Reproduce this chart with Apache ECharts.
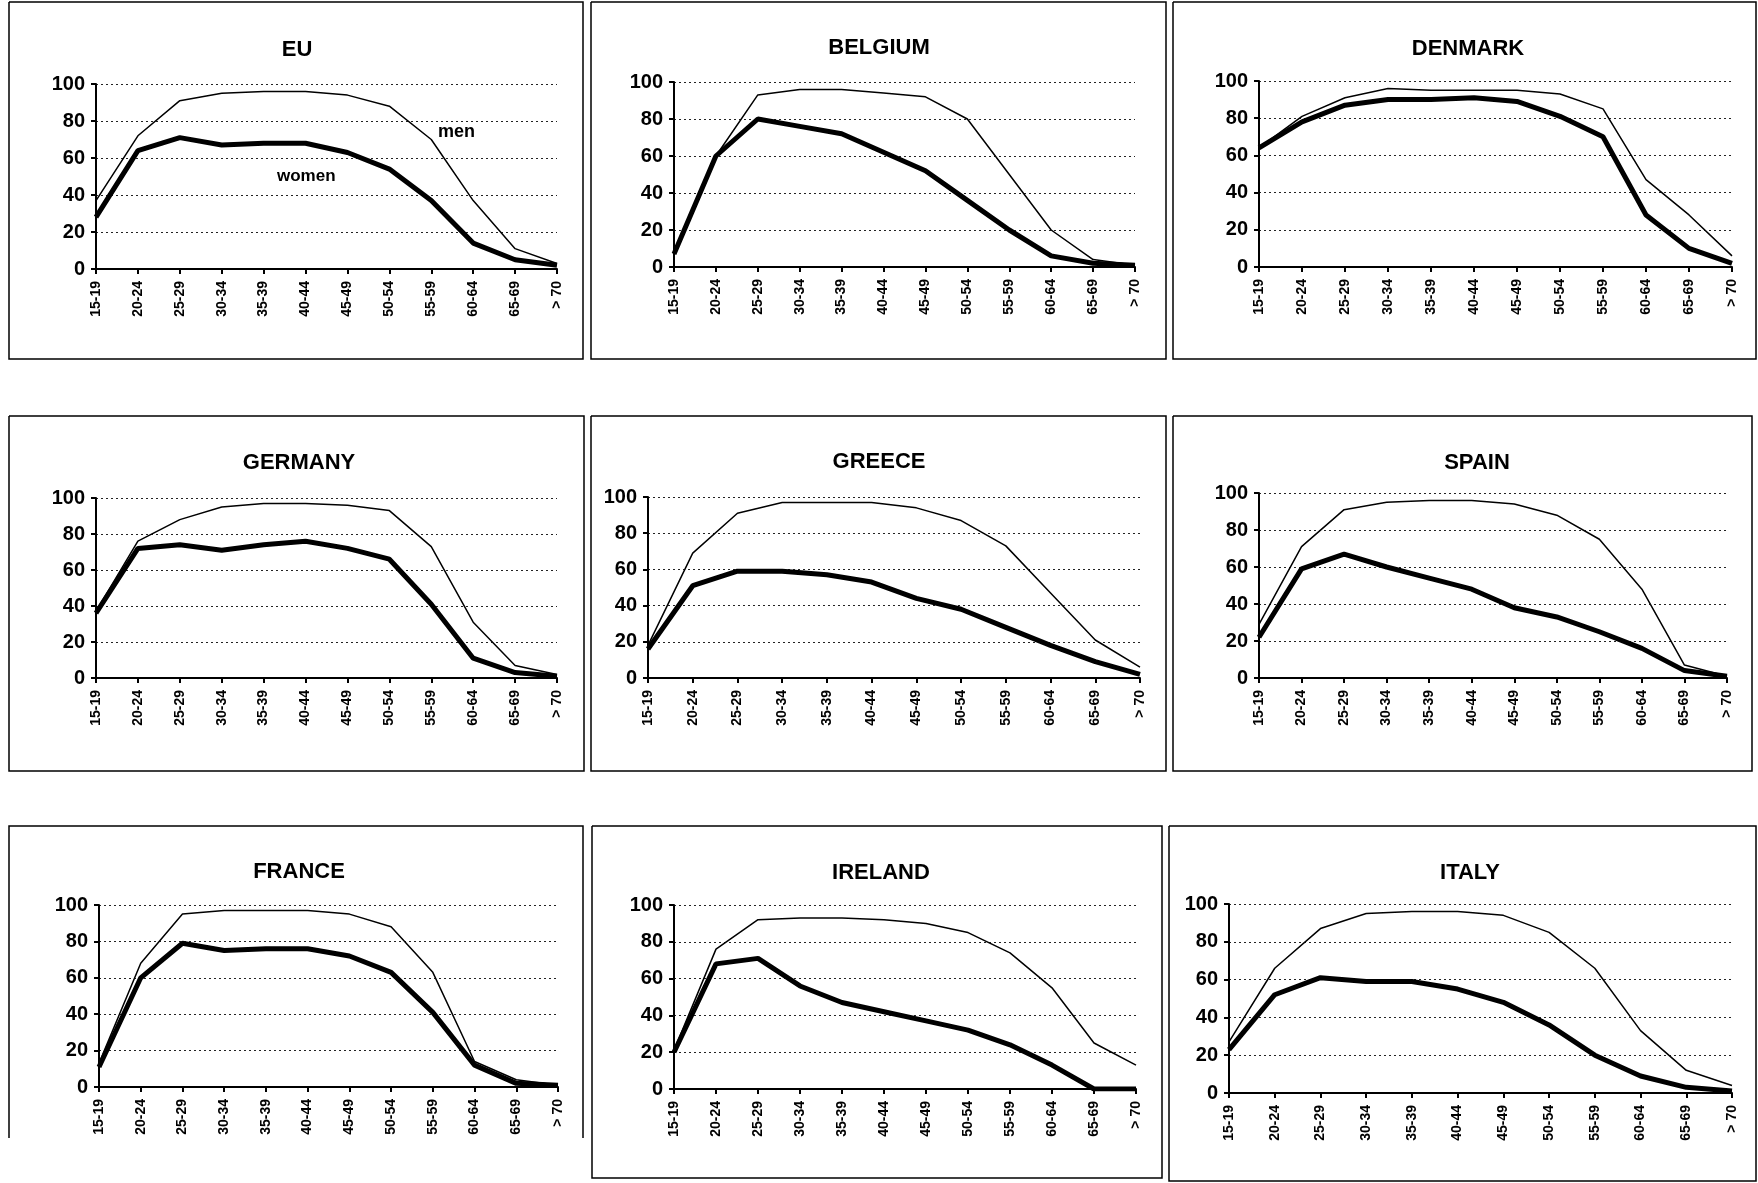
<!DOCTYPE html>
<html>
<head>
<meta charset="utf-8">
<script src="https://cdn.jsdelivr.net/npm/echarts@6/dist/echarts.min.js"></script>
<style>
  html, body { margin: 0; padding: 0; background: #fff; }
  #chart { width: 1758px; height: 1183px; }
</style>
</head>
<body>
<div id="chart"></div>
<script>
// age groups on the x axis
var ageGroups = ["15-19", "20-24", "25-29", "30-34", "35-39", "40-44", "45-49", "50-54", "55-59", "60-64", "65-69", "> 70"];
var yTicks = [0, 20, 40, 60, 80, 100];

var countries = ["EU", "BELGIUM", "DENMARK", "GERMANY", "GREECE", "SPAIN", "FRANCE", "IRELAND", "ITALY"];

// activity rates (%)
var euMen      = [37, 72, 91, 95, 96, 96, 94, 88, 70, 37, 11, 3];
var euWomen    = [28, 64, 71, 67, 68, 68, 63, 54, 37, 14, 5, 2];
var beMen      = [8, 60, 93, 96, 96, 94, 92, 80, 50, 20, 4, 1];
var beWomen    = [7, 60, 80, 76, 72, 62, 52, 36, 20, 6, 2, 1];
var dkMen      = [64, 81, 91, 96, 95, 95, 95, 93, 85, 47, 28, 6];
var dkWomen    = [64, 78, 87, 90, 90, 91, 89, 81, 70, 28, 10, 2];
var deMen      = [37, 76, 88, 95, 97, 97, 96, 93, 73, 31, 7, 2];
var deWomen    = [36, 72, 74, 71, 74, 76, 72, 66, 41, 11, 3, 1];
var grMen      = [18, 69, 91, 97, 97, 97, 94, 87, 73, 47, 21, 6];
var grWomen    = [16, 51, 59, 59, 57, 53, 44, 38, 28, 18, 9, 2];
var esMen      = [29, 71, 91, 95, 96, 96, 94, 88, 75, 48, 7, 1];
var esWomen    = [22, 59, 67, 60, 54, 48, 38, 33, 25, 16, 4, 1];
var frMen      = [13, 68, 95, 97, 97, 97, 95, 88, 63, 14, 4, 1];
var frWomen    = [11, 60, 79, 75, 76, 76, 72, 63, 41, 12, 2, 1];
var ieMen      = [21, 76, 92, 93, 93, 92, 90, 85, 74, 55, 25, 13];
var ieWomen    = [20, 68, 71, 56, 47, 42, 37, 32, 24, 13, 0, 0];
var itMen      = [27, 66, 87, 95, 96, 96, 94, 85, 66, 33, 12, 4];
var itWomen    = [23, 52, 61, 59, 59, 55, 48, 36, 20, 9, 3, 1];

var menData = [euMen, beMen, dkMen, deMen, grMen, esMen, frMen, ieMen, itMen];
var womenData = [euWomen, beWomen, dkWomen, deWomen, grWomen, esWomen, frWomen, ieWomen, itWomen];

// layout of each panel: box [x, y, w, h], plot [left, top, width, height], title centre [x, y]
var layout = [
  { box: [9, 2, 574, 357], plot: [96, 84, 461, 185], title: [292, 47] },
  { box: [591, 2, 575, 357], plot: [674, 82, 461, 185], title: [874, 45] },
  { box: [1173, 2, 583, 357], plot: [1259, 81, 473, 186], title: [1463, 46] },
  { box: [9, 416, 575, 355], plot: [96, 498, 461, 180], title: [294, 460] },
  { box: [591, 416, 575, 355], plot: [648, 497, 492, 181], title: [874, 459] },
  { box: [1173, 416, 579, 355], plot: [1259, 493, 468, 185], title: [1472, 460] },
  { box: [9, 826, 574, 312, true], plot: [99, 905, 459, 182], title: [294, 869] },
  { box: [592, 826, 570, 352], plot: [674, 905, 462, 184], title: [876, 870] },
  { box: [1169, 826, 587, 355], plot: [1229, 904, 503, 189], title: [1465, 870] }
];

var FONT = "Liberation Sans";
var titles = [], grids = [], xAxes = [], yAxes = [], series = [], graphics = [];

countries.forEach(function (name, i) {
  var L = layout[i];
  titles.push({
    text: name, left: L.title[0], top: L.title[1] - 13, textAlign: "center",
    textStyle: { fontFamily: FONT, fontWeight: "bold", fontSize: 22, color: "#000" }
  });
  grids.push({ left: L.plot[0], top: L.plot[1], width: L.plot[2], height: L.plot[3], containLabel: false });
  xAxes.push({
    gridIndex: i, type: "category", boundaryGap: false, data: ageGroups,
    axisLine: { lineStyle: { color: "#000", width: 2 } },
    axisTick: { show: true, length: 5, lineStyle: { color: "#000", width: 2 } },
    axisLabel: { rotate: 90, interval: 0, margin: 12, fontFamily: FONT, fontWeight: "bold", fontSize: 14, color: "#000" }
  });
  yAxes.push({
    gridIndex: i, type: "value", min: yTicks[0], max: yTicks[yTicks.length - 1], interval: 20,
    axisLine: { show: true, lineStyle: { color: "#000", width: 2 } },
    axisTick: { show: true, length: 5, lineStyle: { color: "#000", width: 2 } },
    axisLabel: { margin: 11, fontFamily: FONT, fontWeight: "bold", fontSize: 20, color: "#000" },
    splitLine: { show: true, lineStyle: { type: [2, 3], color: "#222", width: 1 } }
  });
  series.push({
    name: name + " men", type: "line", xAxisIndex: i, yAxisIndex: i, data: menData[i],
    showSymbol: false, lineStyle: { color: "#000", width: 1.5 }, z: 3
  });
  series.push({
    name: name + " women", type: "line", xAxisIndex: i, yAxisIndex: i, data: womenData[i],
    showSymbol: false, lineStyle: { color: "#000", width: 5 }, z: 4
  });

  var b = L.box;
  var pts = b[4]
    ? [[b[0], b[1] + b[3]], [b[0], b[1]], [b[0] + b[2], b[1]], [b[0] + b[2], b[1] + b[3]]]
    : [[b[0], b[1]], [b[0] + b[2], b[1]], [b[0] + b[2], b[1] + b[3]], [b[0], b[1] + b[3]], [b[0], b[1]]];
  graphics.push({
    type: "polyline", shape: { points: pts },
    style: { stroke: "#000", lineWidth: 1.5, fill: null }, silent: true
  });
});

// series labels written inside the EU panel
graphics.push({ type: "text", left: 438, top: 123, style: { text: "men", font: "bold 18px " + FONT, fill: "#000" } });
graphics.push({ type: "text", left: 277, top: 168, style: { text: "women", font: "bold 17px " + FONT, fill: "#000" } });

var myChart = echarts.init(document.getElementById("chart"));
myChart.setOption({
  backgroundColor: "#fff",
  animation: false,
  title: titles,
  grid: grids,
  xAxis: xAxes,
  yAxis: yAxes,
  series: series,
  graphic: graphics
});
</script>
</body>
</html>
